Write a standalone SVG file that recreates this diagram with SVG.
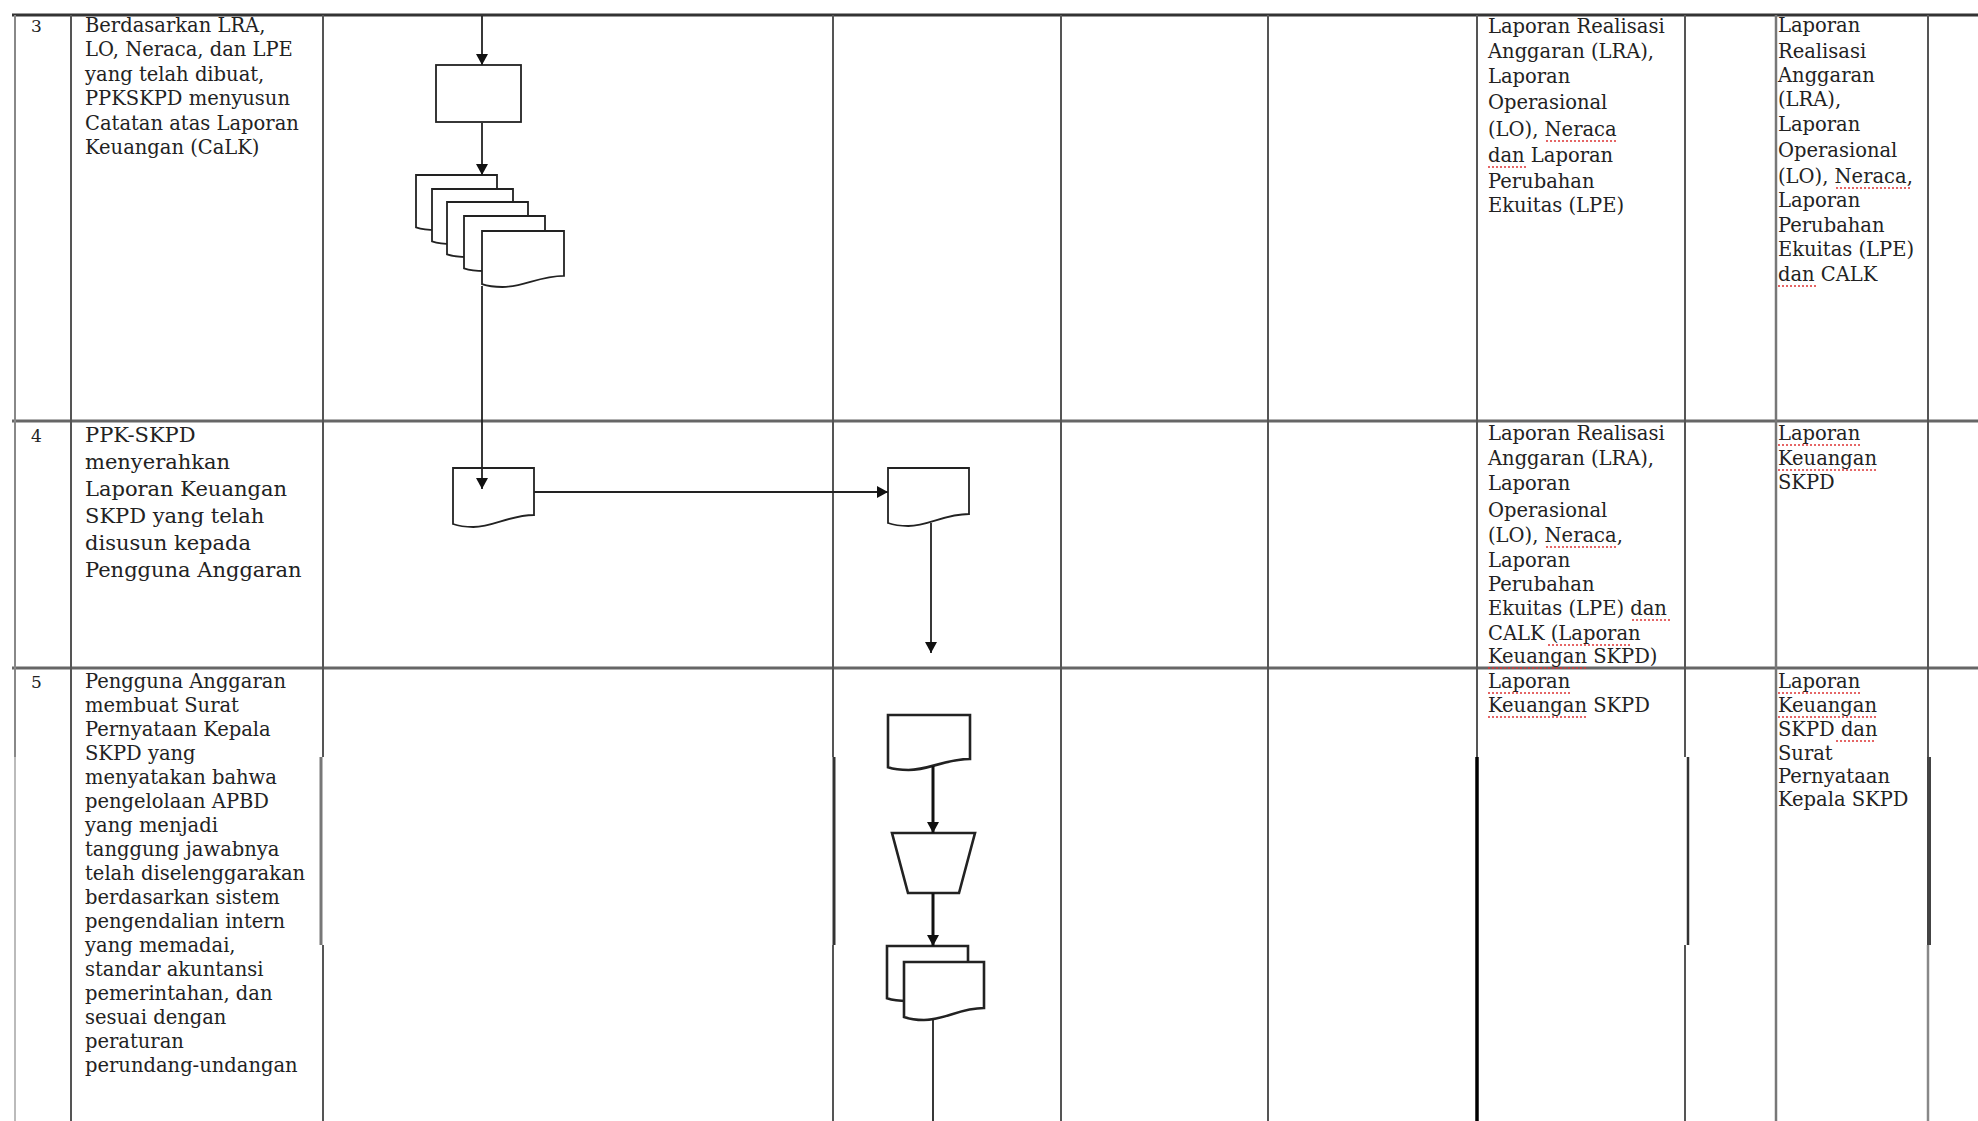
<svg xmlns="http://www.w3.org/2000/svg" width="1978" height="1121" viewBox="0 0 1978 1121">
<defs>
<style>
.g{stroke:#555;stroke-width:2;fill:none}
.gb{stroke:#333;stroke-width:3;fill:none}
.hr{stroke:#666;stroke-width:3;fill:none}
.sh{stroke:#222;stroke-width:1.8;fill:#fff}
.sh5{stroke:#222;stroke-width:2.6;fill:#fff}
.cn{stroke:#222;stroke-width:1.8;fill:none}
.cn5{stroke:#111;stroke-width:3;fill:none}
.t{font-family:'DejaVu Serif','Liberation Serif',serif;font-size:19.5px;fill:#222}
.t4{font-family:'DejaVu Serif','Liberation Serif',serif;font-size:21px;fill:#222}
.n{font-family:'DejaVu Serif','Liberation Serif',serif;font-size:17px;fill:#222}
.sp{stroke:#d33;stroke-width:1.6;stroke-dasharray:2 2;fill:none}
</style>
<marker id="ah" markerWidth="11" markerHeight="12" refX="11" refY="6" orient="auto" markerUnits="userSpaceOnUse">
<path d="M0,0 L11,6 L0,12 Z" fill="#111"/>
</marker>
</defs>
<rect width="1978" height="1121" fill="#fff"/>

<g id="grid">
<line class="gb" x1="12" y1="15" x2="1978" y2="15"/>
<line class="hr" x1="12" y1="421" x2="1978" y2="421"/>
<line class="hr" x1="12" y1="668" x2="1978" y2="668"/>
<line stroke="#888" stroke-width="2" x1="15" y1="15" x2="15" y2="757"/>
<line stroke="#bbb" stroke-width="2" x1="15" y1="757" x2="15" y2="1121"/>
<line class="g" x1="71" y1="15" x2="71" y2="1121"/>
<line class="g" x1="323" y1="15" x2="323" y2="757"/>
<line stroke="#777" stroke-width="3" x1="321" y1="757" x2="321" y2="945"/>
<line class="g" x1="323" y1="945" x2="323" y2="1121"/>
<line class="g" x1="833" y1="15" x2="833" y2="757"/>
<line stroke="#333" stroke-width="3" x1="834" y1="757" x2="834" y2="945"/>
<line class="g" x1="833" y1="945" x2="833" y2="1121"/>
<line class="g" x1="1061" y1="15" x2="1061" y2="1121"/>
<line class="g" x1="1268" y1="15" x2="1268" y2="1121"/>
<line class="g" x1="1477" y1="15" x2="1477" y2="757"/>
<line stroke="#000" stroke-width="3.5" x1="1477" y1="757" x2="1477" y2="1121"/>
<line class="g" x1="1685" y1="15" x2="1685" y2="757"/>
<line stroke="#333" stroke-width="2.5" x1="1688" y1="757" x2="1688" y2="945"/>
<line class="g" x1="1685" y1="945" x2="1685" y2="1121"/>
<line stroke="#777" stroke-width="2.5" x1="1776" y1="15" x2="1776" y2="1121"/>
<line class="g" x1="1928" y1="15" x2="1928" y2="757"/>
<line stroke="#444" stroke-width="4" x1="1929" y1="757" x2="1929" y2="945"/>
<line stroke="#888" stroke-width="2.5" x1="1928" y1="945" x2="1928" y2="1121"/>
</g>

<g id="r3-process"><rect class="sh" x="436" y="65" width="85" height="57"/></g>
<g id="r3-documents">
<path class="sh" d="M416,175 H497 V219 C472.7,219 456.5,230 436.3,230 Q424.1,230 416,227.3 Z"/>
<path class="sh" d="M432,189 H513 V233 C488.7,233 472.5,244 452.3,244 Q440.1,244 432,241.3 Z"/>
<path class="sh" d="M447,202 H528 V246 C503.7,246 487.5,257 467.3,257 Q455.1,257 447,254.3 Z"/>
<path class="sh" d="M464,216 H545 V260 C520.7,260 504.5,271 484.3,271 Q472.1,271 464,268.3 Z"/>
<path class="sh" d="M482,231 H564 V275.8 C539.4,275.8 523,287 502.5,287 Q490.2,287 482,284.2 Z"/>
</g>
<g id="r4-doc-ppk"><path class="sh" d="M453,468 H534 V515 C509.7,515 493.5,527 473.3,527 Q461.1,527 453,524 Z"/></g>
<g id="r4-doc-pa"><path class="sh" d="M888,468 H969 V514 C944.7,514 928.5,526 908.3,526 Q896.1,526 888,523 Z"/></g>
<g id="r5-doc"><path class="sh5" d="M888,715 H970 V759 C945.4,759 929,770 908.5,770 Q896.2,770 888,767.3 Z"/></g>
<g id="r5-manual"><path class="sh5" d="M892,833 H975 L959,893 H908 Z"/></g>
<g id="r5-documents">
<path class="sh5" d="M887,946 H968 V990 C943.7,990 927.5,1001 907.3,1001 Q895.1,1001 887,998.3 Z"/>
<path class="sh5" d="M904,962 H984 V1008 C960,1008 944,1020 924,1020 Q912,1020 904,1017 Z"/>
</g>

<g id="connectors">
<path class="cn" d="M482,16 V65" marker-end="url(#ah)"/>
<path class="cn" d="M482,123 V175" marker-end="url(#ah)"/>
<path class="cn" d="M482,286 V489" marker-end="url(#ah)"/>
<path class="cn" d="M534,492 H888" marker-end="url(#ah)"/>
<path class="cn" d="M931,523 V653" marker-end="url(#ah)"/>
<path class="cn5" d="M933,766 V833" marker-end="url(#ah)"/>
<path class="cn5" d="M933,893 V946" marker-end="url(#ah)"/>
<path class="cn" d="M933,1019 V1121"/>
</g>

<g id="row3-text">
<text class="n" x="31" y="32">3</text>
<text class="t" x="85" y="32">Berdasarkan LRA,</text>
<text class="t" x="85" y="56">LO, Neraca, dan LPE</text>
<text class="t" x="85" y="81">yang telah dibuat,</text>
<text class="t" x="85" y="105">PPKSKPD menyusun</text>
<text class="t" x="85" y="130">Catatan atas Laporan</text>
<text class="t" x="85" y="154">Keuangan (CaLK)</text>
<text class="t" x="1488" y="33">Laporan Realisasi</text>
<text class="t" x="1488" y="58">Anggaran (LRA),</text>
<text class="t" x="1488" y="83">Laporan</text>
<text class="t" x="1488" y="109">Operasional</text>
<text class="t" x="1488" y="136">(LO), Neraca</text>
<text class="t" x="1488" y="162">dan Laporan</text>
<text class="t" x="1488" y="188">Perubahan</text>
<text class="t" x="1488" y="212">Ekuitas (LPE)</text>
<text class="t" x="1778" y="32">Laporan</text>
<text class="t" x="1778" y="58">Realisasi</text>
<text class="t" x="1778" y="82">Anggaran</text>
<text class="t" x="1778" y="106">(LRA),</text>
<text class="t" x="1778" y="131">Laporan</text>
<text class="t" x="1778" y="157">Operasional</text>
<text class="t" x="1778" y="183">(LO), Neraca,</text>
<text class="t" x="1778" y="207">Laporan</text>
<text class="t" x="1778" y="232">Perubahan</text>
<text class="t" x="1778" y="256">Ekuitas (LPE)</text>
<text class="t" x="1778" y="281">dan CALK</text>
</g>

<g id="row4-text">
<text class="n" x="31" y="442">4</text>
<text class="t4" x="85" y="442">PPK-SKPD</text>
<text class="t4" x="85" y="469">menyerahkan</text>
<text class="t4" x="85" y="496">Laporan Keuangan</text>
<text class="t4" x="85" y="523">SKPD yang telah</text>
<text class="t4" x="85" y="550">disusun kepada</text>
<text class="t4" x="85" y="577">Pengguna Anggaran</text>
<text class="t" x="1488" y="440">Laporan Realisasi</text>
<text class="t" x="1488" y="465">Anggaran (LRA),</text>
<text class="t" x="1488" y="490">Laporan</text>
<text class="t" x="1488" y="517">Operasional</text>
<text class="t" x="1488" y="542">(LO), Neraca,</text>
<text class="t" x="1488" y="567">Laporan</text>
<text class="t" x="1488" y="591">Perubahan</text>
<text class="t" x="1488" y="615">Ekuitas (LPE) dan</text>
<text class="t" x="1488" y="640">CALK (Laporan</text>
<text class="t" x="1488" y="663">Keuangan SKPD)</text>
<text class="t" x="1778" y="440">Laporan</text>
<text class="t" x="1778" y="465">Keuangan</text>
<text class="t" x="1778" y="489">SKPD</text>
</g>

<g id="row5-text">
<text class="n" x="31" y="688">5</text>
<text class="t" x="85" y="688">Pengguna Anggaran</text>
<text class="t" x="85" y="712">membuat Surat</text>
<text class="t" x="85" y="736">Pernyataan Kepala</text>
<text class="t" x="85" y="760">SKPD yang</text>
<text class="t" x="85" y="784">menyatakan bahwa</text>
<text class="t" x="85" y="808">pengelolaan APBD</text>
<text class="t" x="85" y="832">yang menjadi</text>
<text class="t" x="85" y="856">tanggung jawabnya</text>
<text class="t" x="85" y="880">telah diselenggarakan</text>
<text class="t" x="85" y="904">berdasarkan sistem</text>
<text class="t" x="85" y="928">pengendalian intern</text>
<text class="t" x="85" y="952">yang memadai,</text>
<text class="t" x="85" y="976">standar akuntansi</text>
<text class="t" x="85" y="1000">pemerintahan, dan</text>
<text class="t" x="85" y="1024">sesuai dengan</text>
<text class="t" x="85" y="1048">peraturan</text>
<text class="t" x="85" y="1072">perundang-undangan</text>
<text class="t" x="1488" y="688">Laporan</text>
<text class="t" x="1488" y="712">Keuangan SKPD</text>
<text class="t" x="1778" y="688">Laporan</text>
<text class="t" x="1778" y="712">Keuangan</text>
<text class="t" x="1778" y="736">SKPD dan</text>
<text class="t" x="1778" y="760">Surat</text>
<text class="t" x="1778" y="783">Pernyataan</text>
<text class="t" x="1778" y="806">Kepala SKPD</text>
</g>

<g id="spelling-marks">
<path class="sp" d="M1546,141 H1618"/>
<path class="sp" d="M1488,167 H1527"/>
<path class="sp" d="M1836,188 H1910"/>
<path class="sp" d="M1778,286 H1817"/>
<path class="sp" d="M1546,547 H1618"/>
<path class="sp" d="M1632,620 H1671"/>
<path class="sp" d="M1548,645 H1632"/>
<path class="sp" d="M1488,668 H1586"/>
<path class="sp" d="M1778,445 H1862"/>
<path class="sp" d="M1778,470 H1876"/>
<path class="sp" d="M1488,693 H1572"/>
<path class="sp" d="M1488,717 H1586"/>
<path class="sp" d="M1778,693 H1862"/>
<path class="sp" d="M1778,717 H1876"/>
<path class="sp" d="M1836,741 H1875"/>
</g>
</svg>
